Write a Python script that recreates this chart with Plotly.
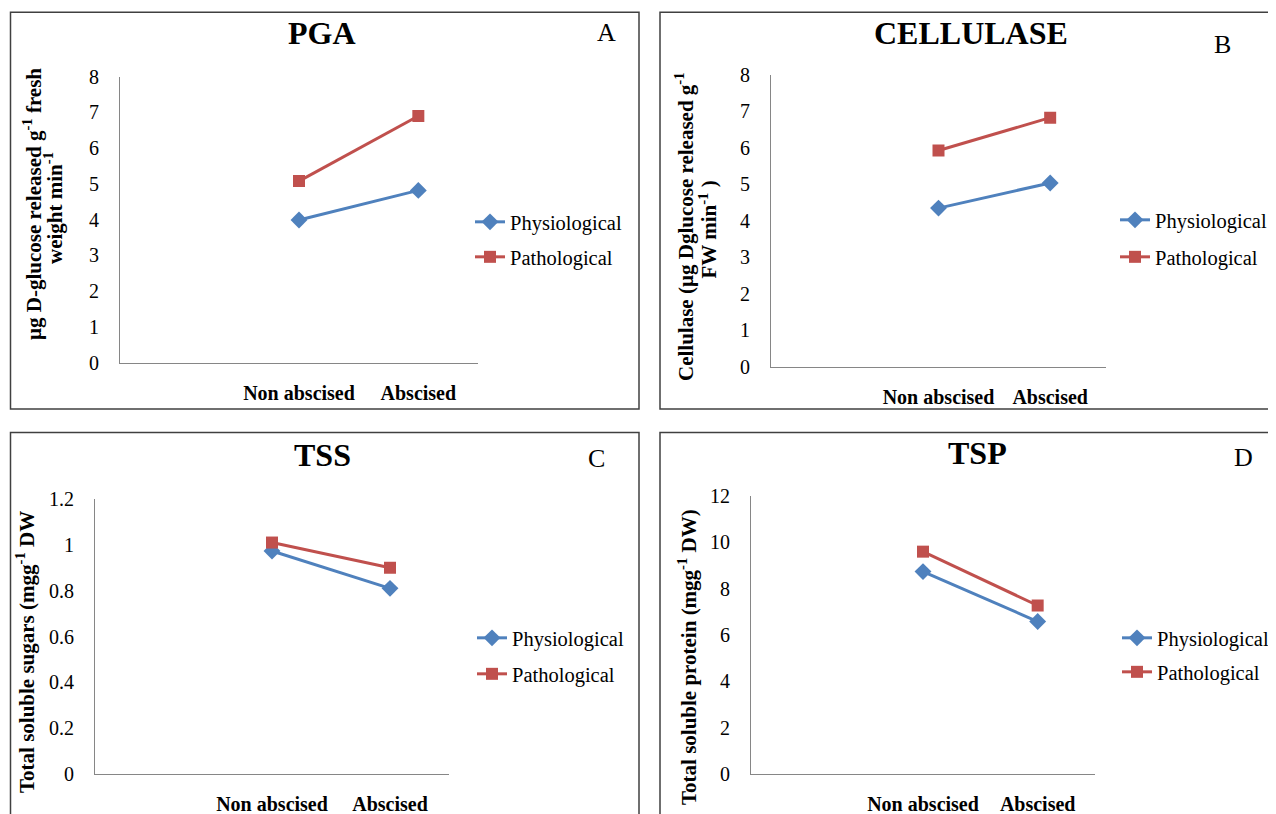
import plotly.graph_objects as go

W, H = 1276, 814
OFF = 8  # the page body adds an 8px margin; compensate

# ---------------- data ----------------
categories = [" ", "Non abscised", "Abscised"]
groups = ["Non abscised", "Abscised"]
series_names = ["Physiological", "Pathological"]

pga_physiological = [3.99, 4.82]
pga_pathological = [5.08, 6.90]

cellulase_physiological = [4.35, 5.04]
cellulase_pathological = [5.93, 6.83]

tss_physiological = [0.973, 0.81]
tss_pathological = [1.01, 0.90]

tsp_physiological = [8.73, 6.58]
tsp_pathological = [9.59, 7.27]

panel_titles = ["PGA", "CELLULASE", "TSS", "TSP"]
panel_letters = ["A", "B", "C", "D"]
y_title_lines = [
    ["µg D-glucose released g<sup>-1</sup> fresh", "weight min<sup>-1</sup>"],
    ["Cellulase (µg Dglucose released g<sup>-1</sup>", "FW min<sup>-1</sup> )"],
    ["Total soluble sugars (mgg<sup>-1</sup> DW"],
    ["Total soluble protein (mgg<sup>-1</sup> DW)"],
]
y_ranges = [[0, 8], [0, 8], [0, 1.2], [0, 12]]
y_dticks = [1, 1, 0.2, 2]

# ---------------- layout helpers ----------------
def fx(x):
    return (x - OFF) / W

def fy(y):
    return 1 - (y - OFF) / H

FONT = "Liberation Serif, Times New Roman, serif"
BLUE = "#4F81BD"
RED = "#C0504D"
AXIS = "#868686"

# plot area rectangles in pixels: (x0, x1, ytop, ybottom)
areas = [
    (120, 478, 76.7, 362.7),
    (771, 1106, 75.0, 366.7),
    (95, 449, 499.0, 774.0),
    (751, 1095, 495.7, 774.3),
]
boxes = [
    (10.5, 639, 12.3, 409),
    (660, 1300, 12.3, 409),
    (10.5, 639, 432.5, 840),
    (660, 1300, 432.5, 840),
]
title_pos = [(322, 33), (971, 33), (322, 455), (977, 453)]
letter_pos = [(606, 32), (1222, 45), (596, 458), (1243, 457)]
ytitle_line_pos = [
    [(32, 204), (53, 208)],
    [(685, 227), (708.5, 230)],
    [(25, 652)],
    [(687, 657)],
]
ytitle_size = 21
legend_pos = [  # (x of legend left, y of physio item center, y of patho item center)
    (470, 222, 257),
    (1115, 220, 257),
    (472, 638, 674),
    (1117, 638, 672),
]

phys_data = [pga_physiological, cellulase_physiological, tss_physiological, tsp_physiological]
path_data = [pga_pathological, cellulase_pathological, tss_pathological, tsp_pathological]

fig = go.Figure()
layout = dict(
    width=W, height=H,
    margin=dict(l=0, r=0, t=0, b=0, autoexpand=False),
    paper_bgcolor="white", plot_bgcolor="white",
    font=dict(family=FONT, color="black"),
    showlegend=True,
    shapes=[], annotations=[],
)

leg_idx = 1
for i in range(4):
    ax = "" if i == 0 else str(i + 1)
    x0, x1, yt, yb = areas[i]
    layout["xaxis" + ax] = dict(
        domain=[fx(x0), fx(x1)],
        anchor="y" + ax,
        type="category",
        categoryorder="array",
        categoryarray=categories,
        tickvals=groups,
        range=[-0.5, 2.5],
        showline=True, linecolor=AXIS, linewidth=1,
        showgrid=False, zeroline=False,
        ticks="", ticklabelstandoff=12,
        tickfont=dict(family=FONT, size=20, color="black", weight="bold"),
        fixedrange=True, automargin=False,
    )
    layout["yaxis" + ax] = dict(
        domain=[fy(yb), fy(yt)],
        anchor="x" + ax,
        range=y_ranges[i],
        dtick=y_dticks[i],
        tick0=0,
        showline=True, linecolor=AXIS, linewidth=1,
        showgrid=False, zeroline=False,
        ticks="", ticklabelstandoff=16,
        tickfont=dict(family=FONT, size=20, color="black"),
        fixedrange=True, automargin=False,
    )

    for name, vals, color, symbol, msize, py_item in [
        (series_names[0], phys_data[i], BLUE, "diamond", 13, legend_pos[i][1]),
        (series_names[1], path_data[i], RED, "square", 12, legend_pos[i][2]),
    ]:
        lname = "legend" if leg_idx == 1 else "legend" + str(leg_idx)
        fig.add_trace(go.Scatter(
            x=groups, y=vals, name=name,
            mode="lines+markers",
            line=dict(color=color, width=3),
            marker=dict(symbol=symbol, size=msize, color=color),
            xaxis="x" + ax, yaxis="y" + ax,
            legend=lname,
            hoverinfo="skip",
        ))
        layout[lname] = dict(
            x=fx(legend_pos[i][0]), y=fy(py_item),
            xanchor="left", yanchor="middle",
            bgcolor="rgba(0,0,0,0)",
            font=dict(family=FONT, size=20.5, color="black"),
            itemclick=False, itemdoubleclick=False,
        )
        leg_idx += 1

    bx0, bx1, by0, by1 = boxes[i]
    layout["shapes"].append(dict(
        type="rect", xref="paper", yref="paper",
        x0=fx(bx0), x1=fx(bx1), y0=fy(by1), y1=fy(by0),
        line=dict(color="#404040", width=1.5),
        fillcolor="rgba(0,0,0,0)", layer="above",
    ))
    tx, ty = title_pos[i]
    layout["annotations"].append(dict(
        text="<b>" + panel_titles[i] + "</b>", xref="paper", yref="paper",
        x=fx(tx), y=fy(ty), xanchor="center", yanchor="middle",
        showarrow=False, font=dict(family=FONT, size=32, color="black"),
    ))
    lx, ly = letter_pos[i]
    layout["annotations"].append(dict(
        text=panel_letters[i], xref="paper", yref="paper",
        x=fx(lx), y=fy(ly), xanchor="center", yanchor="middle",
        showarrow=False, font=dict(family=FONT, size=26, color="black"),
    ))
    for line_text, (yx, yy) in zip(y_title_lines[i], ytitle_line_pos[i]):
        layout["annotations"].append(dict(
            text="<b>" + line_text + "</b>", xref="paper", yref="paper",
            x=fx(yx), y=fy(yy), xanchor="center", yanchor="middle",
            textangle=-90, showarrow=False,
            font=dict(family=FONT, size=ytitle_size, color="black"),
        ))

fig.update_layout(**layout)
fig.write_html("out.html")
